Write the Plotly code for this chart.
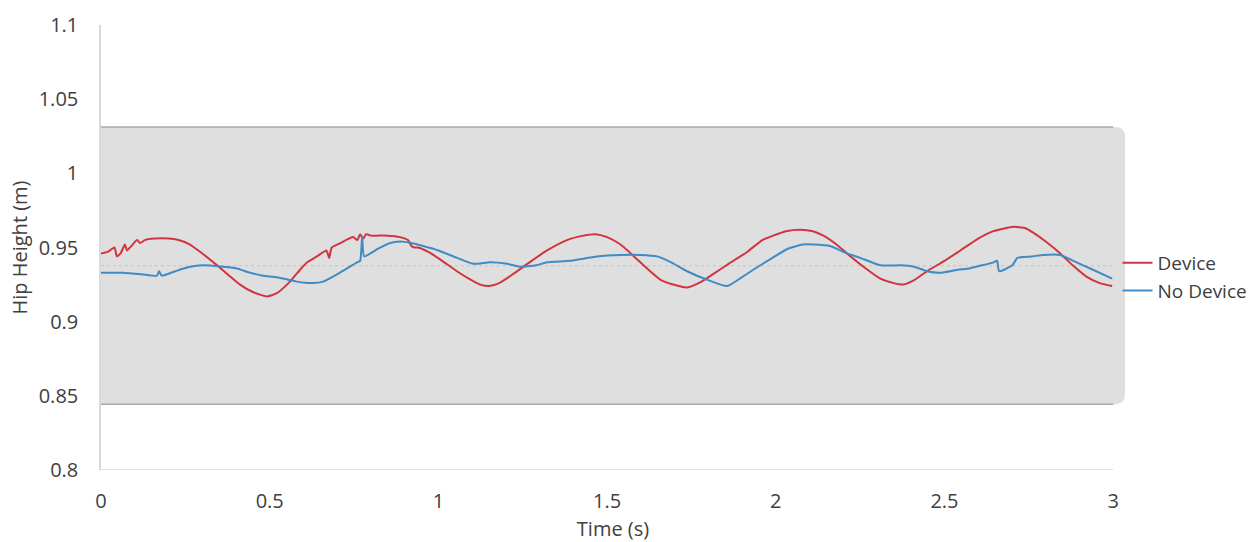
import plotly.graph_objects as go

# ---- data ----
time_device = [0.000, 0.020, 0.040, 0.047, 0.058, 0.071, 0.077, 0.090, 0.107, 0.116, 0.130, 0.160,
               0.200, 0.230, 0.264, 0.300, 0.344, 0.380, 0.412, 0.450, 0.492, 0.520, 0.560, 0.590,
               0.611, 0.640, 0.668, 0.676, 0.684, 0.710, 0.747, 0.760, 0.768, 0.777, 0.786, 0.800,
               0.818, 0.850, 0.886, 0.910, 0.920, 0.928, 0.940, 0.970, 1.005, 1.055, 1.090, 1.124,
               1.150, 1.180, 1.221, 1.270, 1.322, 1.381, 1.430, 1.465, 1.500, 1.540, 1.580, 1.618,
               1.660, 1.696, 1.737, 1.780, 1.814, 1.860, 1.915, 1.960, 1.992, 2.030, 2.072, 2.110,
               2.141, 2.180, 2.211, 2.260, 2.310, 2.350, 2.378, 2.410, 2.448, 2.500, 2.547, 2.600,
               2.645, 2.680, 2.704, 2.740, 2.763, 2.800, 2.843, 2.880, 2.923, 2.960, 2.997]
hip_device = [0.946, 0.947, 0.950, 0.944, 0.946, 0.952, 0.948, 0.951, 0.955, 0.953, 0.955, 0.956,
              0.956, 0.955, 0.952, 0.946, 0.938, 0.931, 0.925, 0.920, 0.917, 0.919, 0.927, 0.935,
              0.940, 0.944, 0.948, 0.943, 0.950, 0.953, 0.957, 0.955, 0.959, 0.956, 0.959, 0.958,
              0.958, 0.958, 0.957, 0.955, 0.951, 0.950, 0.950, 0.947, 0.942, 0.934, 0.929, 0.925,
              0.924, 0.926, 0.932, 0.940, 0.948, 0.955, 0.958, 0.959, 0.957, 0.952, 0.944, 0.936,
              0.928, 0.925, 0.923, 0.927, 0.932, 0.939, 0.947, 0.955, 0.958, 0.961, 0.962, 0.961,
              0.958, 0.952, 0.946, 0.937, 0.929, 0.926, 0.925, 0.928, 0.934, 0.941, 0.948, 0.956,
              0.961, 0.963, 0.964, 0.963, 0.960, 0.954, 0.946, 0.938, 0.930, 0.926, 0.924]

time_nodevice = [0.000, 0.065, 0.120, 0.166, 0.172, 0.180, 0.220, 0.264, 0.300, 0.362, 0.400, 0.442,
                 0.480, 0.522, 0.580, 0.629, 0.658, 0.700, 0.759, 0.768, 0.774, 0.780, 0.820, 0.857,
                 0.886, 0.920, 0.955, 1.000, 1.055, 1.103, 1.153, 1.204, 1.242, 1.290, 1.322, 1.390,
                 1.470, 1.540, 1.598, 1.648, 1.690, 1.737, 1.800, 1.856, 1.900, 1.933, 1.990, 2.034,
                 2.080, 2.111, 2.161, 2.211, 2.250, 2.310, 2.369, 2.410, 2.448, 2.487, 2.540, 2.576,
                 2.645, 2.656, 2.662, 2.701, 2.716, 2.760, 2.793, 2.843, 2.882, 2.940, 2.997]
hip_nodevice = [0.933, 0.933, 0.932, 0.931, 0.934, 0.931, 0.934, 0.937, 0.938, 0.937, 0.936, 0.933,
                0.931, 0.930, 0.927, 0.926, 0.927, 0.932, 0.940, 0.941, 0.957, 0.944, 0.949, 0.953,
                0.954, 0.953, 0.951, 0.948, 0.943, 0.939, 0.940, 0.939, 0.937, 0.938, 0.940, 0.941,
                0.944, 0.945, 0.945, 0.944, 0.940, 0.934, 0.928, 0.924, 0.930, 0.935, 0.943, 0.949,
                0.952, 0.952, 0.951, 0.946, 0.943, 0.938, 0.938, 0.937, 0.934, 0.933, 0.935, 0.936,
                0.940, 0.941, 0.934, 0.938, 0.943, 0.944, 0.945, 0.945, 0.941, 0.935, 0.929]

x_ticks = [0, 0.5, 1, 1.5, 2, 2.5, 3]
x_tick_labels = ["0", "0.5", "1", "1.5", "2", "2.5", "3"]
y_ticks = [0.8, 0.85, 0.9, 0.95, 1.0, 1.05, 1.1]
y_tick_labels = ["0.8", "0.85", "0.9", "0.95", "1", "1.05", "1.1"]

band_low = 0.8444
band_high = 1.0313
mean_level = 0.9377

FONT = "Open Sans"
TXT = "#404040"

fig = go.Figure()
fig.add_trace(go.Scatter(x=time_device, y=hip_device, mode="lines", name="Device",
                         line=dict(color="#d2343f", width=2, shape="spline", smoothing=0.5)))
fig.add_trace(go.Scatter(x=time_nodevice, y=hip_nodevice, mode="lines", name="No Device",
                         line=dict(color="#3e8bc5", width=2, shape="spline", smoothing=0.5)))

x_end = 3.035
r_x, r_y = 0.03, 0.0067
band_path = (f"M 0,{band_low} L {x_end - r_x},{band_low} Q {x_end},{band_low} {x_end},{band_low + r_y} "
             f"L {x_end},{band_high - r_y} Q {x_end},{band_high} {x_end - r_x},{band_high} "
             f"L 0,{band_high} Z")
fig.add_shape(type="path", path=band_path, xref="x", yref="y", fillcolor="#dfdfdf",
              line=dict(width=0), layer="below")
for yv in (band_low, band_high):
    fig.add_shape(type="line", x0=0, x1=3.0, y0=yv, y1=yv, xref="x", yref="y",
                  line=dict(color="#a9a9a9", width=1.5), layer="below")
fig.add_shape(type="line", x0=0, x1=3.0, y0=mean_level, y1=mean_level, xref="x", yref="y",
              line=dict(color="#c9c2ba", width=1, dash="dot"), layer="below")
fig.add_shape(type="line", x0=0, x1=3.0, y0=0.8, y1=0.8, xref="x", yref="y",
              line=dict(color="#d9d9d9", width=1.5), layer="below")

fig.update_layout(
    width=1250, height=542,
    margin=dict(l=101, r=125, t=25, b=72, autoexpand=False),
    paper_bgcolor="white", plot_bgcolor="white",
    font=dict(family=FONT, size=20, color=TXT),
    legend=dict(xref="container", yref="container", x=0.894, xanchor="left",
                y=0.489, yanchor="middle",
                font=dict(family=FONT, size=19, color=TXT),
                bgcolor="rgba(0,0,0,0)", itemwidth=30, tracegroupgap=0),
    xaxis=dict(range=[0, x_end], tickvals=x_ticks, ticktext=x_tick_labels, automargin=False,
               showgrid=False, zeroline=False, showline=False,
               ticks="outside", ticklen=13, tickcolor="rgba(0,0,0,0)",
               title=dict(text="Time (s)", standoff=10, font=dict(size=20))),
    yaxis=dict(range=[0.8, 1.1], tickvals=y_ticks, ticktext=y_tick_labels, automargin=False,
               showgrid=False, zeroline=False, showline=True, linecolor="#d9d9d9", linewidth=1.5,
               ticks="outside", ticklen=17, tickcolor="rgba(0,0,0,0)",
               title=dict(text="Hip Height (m)", standoff=6, font=dict(size=20))),
)

fig.write_html("out.html")
